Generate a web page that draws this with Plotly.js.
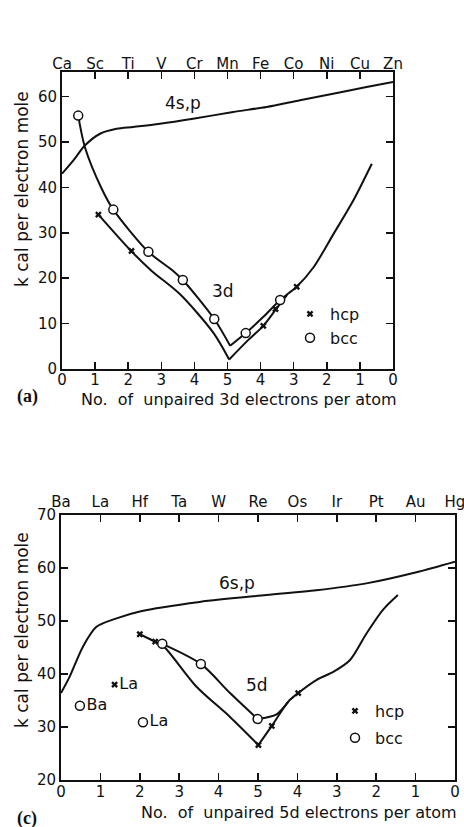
<!DOCTYPE html>
<html>
<head>
<meta charset="utf-8">
<script src="https://cdn.plot.ly/plotly-3.0.1.min.js"></script>
<style>html,body{margin:0;padding:0;background:#fff;}#chart{width:464px;height:827px;}</style>
</head>
<body>
<div id="chart"></div>
<script>
// ---------- shared axis labels ----------
const positions = [0,1,2,3,4,5,6,7,8,9,10];
const unpairedLabels = ['0','1','2','3','4','5','4','3','2','1','0'];
const elements3d = ['Ca','Sc','Ti','V','Cr','Mn','Fe','Co','Ni','Cu','Zn'];
const elements5d = ['Ba','La','Hf','Ta','W','Re','Os','Ir','Pt','Au','Hg'];
const yTicks3d = [0,10,20,30,40,50,60];
const yTicks5d = [20,30,40,50,60,70];

// ---------- (a) 3d series ----------
const band4spX = [0, 0.35, 0.69, 1.15, 1.65, 2.15, 2.96, 3.96, 5.17, 6.18, 7.19, 8.19, 9.2, 10];
const band4spY = [43.0, 46.0, 49.2, 51.8, 52.9, 53.3, 54.0, 55.1, 56.6, 57.7, 59.2, 60.6, 62.1, 63.2];

const bcc3dLeftX = [0.49, 0.69, 1.2, 1.55, 2.61, 3.36, 3.65, 4.6, 5.08];
const bcc3dLeftY = [55.8, 48.9, 39.7, 35.1, 25.8, 21.6, 19.6, 11.0, 5.1];
const bcc3dRightX = [5.08, 5.55, 6.1, 6.59, 7.09, 7.6, 8.2, 8.8, 9.36];
const bcc3dRightY = [5.1, 7.9, 11.6, 15.2, 18.1, 22.4, 29.7, 37.1, 45.2];

const hcp3dLeftX = [1.1, 2.1, 2.71, 3.56, 4.57, 5.05];
const hcp3dLeftY = [34.0, 25.9, 21.6, 16.5, 8.0, 2.1];
const hcp3dRightX = [5.05, 5.6, 6.08, 6.45, 6.8];
const hcp3dRightY = [2.1, 6.2, 9.5, 13.0, 16.3];

const bcc3dPtsX = [0.49, 1.55, 2.61, 3.65, 4.6, 5.55, 6.59];
const bcc3dPtsY = [55.8, 35.1, 25.8, 19.6, 11.0, 7.9, 15.2];
const hcp3dPtsX = [1.1, 2.1, 6.08, 6.45, 7.09];
const hcp3dPtsY = [34.0, 26.0, 9.5, 13.2, 18.1];

// ---------- (c) 5d series ----------
const band6spX = [0, 0.22, 0.56, 0.9, 1.41, 2.0, 3.52, 5.21, 6.48, 7.75, 9.02, 10];
const band6spY = [36.4, 39.5, 45.2, 48.9, 50.5, 51.8, 53.6, 54.9, 55.8, 57.1, 59.2, 61.2];

const hcp5dLeftX = [2.0, 2.39, 2.57, 3.44, 4.29, 5.01];
const hcp5dLeftY = [47.5, 46.1, 45.5, 37.6, 31.9, 26.6];
const hcp5dRightX = [5.01, 5.35, 5.77, 6.02, 6.49, 6.91, 7.33, 7.75, 8.17, 8.55];
const hcp5dRightY = [26.6, 30.2, 34.8, 36.4, 38.9, 40.4, 42.6, 47.6, 52.1, 54.9];
const bcc5dLeftX = [2.57, 3.55, 4.29, 4.99];
const bcc5dLeftY = [45.7, 41.9, 36.4, 31.5];
const bcc5dRightX = [4.99, 5.47, 5.77];
const bcc5dRightY = [31.5, 32.4, 34.8];

const hcp5dPtsX = [2.0, 2.39, 5.01, 5.35, 6.02];
const hcp5dPtsY = [47.5, 46.1, 26.6, 30.2, 36.4];
const bcc5dPtsX = [2.57, 3.55, 4.99];
const bcc5dPtsY = [45.7, 41.9, 31.5];

const hcpLoneX = [1.36], hcpLoneY = [38.0], hcpLoneText = ['La'];
const bccLoneX = [0.48, 2.08], bccLoneY = [34.0, 30.9], bccLoneText = ['Ba', 'La'];

// ---------- styling ----------
const FONT = 'DejaVu Sans, Liberation Sans, sans-serif';
const W = 464, H = 827;
const lineStyle = {color: '#111', width: 2, shape: 'spline', smoothing: 0.8};
const bccMarker = {symbol: 'circle', size: 9, color: '#fff', line: {color: '#111', width: 1.5}};
const hcpMarker = {symbol: 'x', size: 6, color: '#111', line: {width: 0}};

function line(x, y, xa, ya) {
  return {type: 'scatter', mode: 'lines', x: x, y: y, xaxis: xa, yaxis: ya,
          line: lineStyle, showlegend: false, hoverinfo: 'skip', cliponaxis: false};
}

const traces = [
  line(band4spX, band4spY, 'x', 'y'),
  line(bcc3dLeftX, bcc3dLeftY, 'x', 'y'),
  line(bcc3dRightX, bcc3dRightY, 'x', 'y'),
  line(hcp3dLeftX, hcp3dLeftY, 'x', 'y'),
  line(hcp3dRightX, hcp3dRightY, 'x', 'y'),
  {type: 'scatter', mode: 'markers', x: hcp3dPtsX, y: hcp3dPtsY, xaxis: 'x', yaxis: 'y',
   marker: hcpMarker, name: 'hcp', legend: 'legend', showlegend: true},
  {type: 'scatter', mode: 'markers', x: bcc3dPtsX, y: bcc3dPtsY, xaxis: 'x', yaxis: 'y',
   marker: bccMarker, name: 'bcc', legend: 'legend', showlegend: true},
  {type: 'scatter', mode: 'markers', x: [null], y: [null], xaxis: 'x3', yaxis: 'y', showlegend: false, hoverinfo: 'skip'},

  line(band6spX, band6spY, 'x2', 'y2'),
  line(hcp5dLeftX, hcp5dLeftY, 'x2', 'y2'),
  line(hcp5dRightX, hcp5dRightY, 'x2', 'y2'),
  line(bcc5dLeftX, bcc5dLeftY, 'x2', 'y2'),
  line(bcc5dRightX, bcc5dRightY, 'x2', 'y2'),
  {type: 'scatter', mode: 'markers', x: hcp5dPtsX, y: hcp5dPtsY, xaxis: 'x2', yaxis: 'y2',
   marker: hcpMarker, name: 'hcp', legend: 'legend2', legendgroup: 'c1', showlegend: true},
  {type: 'scatter', mode: 'markers', x: bcc5dPtsX, y: bcc5dPtsY, xaxis: 'x2', yaxis: 'y2',
   marker: bccMarker, name: 'bcc', legend: 'legend2', legendgroup: 'c2', showlegend: true},
  {type: 'scatter', mode: 'markers+text', x: hcpLoneX, y: hcpLoneY, text: hcpLoneText, textposition: 'middle right',
   textfont: {family: FONT, size: 16, color: '#111'}, xaxis: 'x2', yaxis: 'y2', marker: hcpMarker, showlegend: false},
  {type: 'scatter', mode: 'markers+text', x: bccLoneX, y: bccLoneY, text: bccLoneText, textposition: 'middle right',
   textfont: {family: FONT, size: 16, color: '#111'}, xaxis: 'x2', yaxis: 'y2', marker: bccMarker, showlegend: false},
  {type: 'scatter', mode: 'markers', x: [null], y: [null], xaxis: 'x4', yaxis: 'y2', showlegend: false, hoverinfo: 'skip'}
];

const tickFont = {family: FONT, size: 15, color: '#111'};
function baseAxis(extra) {
  return Object.assign({
    showgrid: false, zeroline: false, showline: true, linecolor: '#111', linewidth: 2,
    ticks: 'inside', ticklen: 7, tickwidth: 1.5, tickcolor: '#111', tickfont: tickFont,
    automargin: false, fixedrange: true, ticklabeloverflow: 'allow'
  }, extra);
}

const domA = {x: [62/W, 393/W], y: [1 - 369/H, 1 - 72/H]};
const domC = {x: [61/W, 455/W], y: [1 - 780/H, 1 - 515/H]};

function ann(text, xr, yr, x, y, size, extra) {
  return Object.assign({text: text, xref: xr, yref: yr, x: x, y: y, showarrow: false,
    xanchor: 'center', yanchor: 'middle', font: {family: FONT, size: size, color: '#111'}}, extra || {});
}

const layout = {
  width: W, height: H,
  margin: {l: 0, r: 0, t: 0, b: 0},
  paper_bgcolor: '#fff', plot_bgcolor: 'rgba(0,0,0,0)',
  font: {family: FONT, color: '#111'},
  xaxis: baseAxis({domain: domA.x, anchor: 'y', range: [0, 10], tickvals: positions, ticktext: unpairedLabels,
                   ticklabelstandoff: -4}),
  yaxis: baseAxis({domain: domA.y, anchor: 'x', range: [0, 65.4], tickvals: yTicks3d, mirror: 'ticks'}),
  xaxis3: baseAxis({overlaying: 'x', anchor: 'y', side: 'top', range: [0, 10], tickvals: positions, ticktext: elements3d,
                    ticklabelstandoff: -5}),
  xaxis2: baseAxis({domain: domC.x, anchor: 'y2', range: [0, 10], tickvals: positions, ticktext: unpairedLabels,
                    ticklabelstandoff: -3}),
  yaxis2: baseAxis({domain: domC.y, anchor: 'x2', range: [20, 70], tickvals: yTicks5d, mirror: 'ticks'}),
  xaxis4: baseAxis({overlaying: 'x2', anchor: 'y2', side: 'top', range: [0, 10], tickvals: positions, ticktext: elements5d}),
  legend: {x: 290/W, y: 1 - 297/H, xanchor: 'left', yanchor: 'top', bgcolor: 'rgba(0,0,0,0)',
           font: {family: FONT, size: 16, color: '#111'}, itemwidth: 30},
  legend2: {x: 335/W, y: 1 - 694/H, xanchor: 'left', yanchor: 'top', bgcolor: 'rgba(0,0,0,0)',
            font: {family: FONT, size: 16, color: '#111'}, tracegroupgap: 3, itemwidth: 30},
  annotations: [
    ann('4s,p', 'x', 'y', 3.66, 58.5, 17),
    ann('3d', 'x', 'y', 4.86, 17.2, 17),
    ann('6s,p', 'x2', 'y2', 4.47, 57.2, 17),
    ann('5d', 'x2', 'y2', 4.97, 37.9, 17),
    ann('No.  of  unpaired 3d electrons per atom', 'paper', 'paper', 239/W, 1 - 399/H, 16),
    ann('No.  of  unpaired 5d electrons per atom', 'paper', 'paper', 299/W, 1 - 812/H, 16),
    ann('k cal per electron mole', 'paper', 'paper', 22/W, 1 - 189/H, 17, {textangle: -90}),
    ann('k cal per electron mole', 'paper', 'paper', 22/W, 1 - 630/H, 17, {textangle: -90}),
    ann('<b>(a)</b>', 'paper', 'paper', 27/W, 1 - 397/H, 18, {font: {family: 'Liberation Serif, serif', size: 18, color: '#111'}}),
    ann('<b>(c)</b>', 'paper', 'paper', 27/W, 1 - 818/H, 18, {font: {family: 'Liberation Serif, serif', size: 18, color: '#111'}})
  ]
};

Plotly.newPlot('chart', traces, layout, {staticPlot: true, displayModeBar: false});
</script>
</body>
</html>
